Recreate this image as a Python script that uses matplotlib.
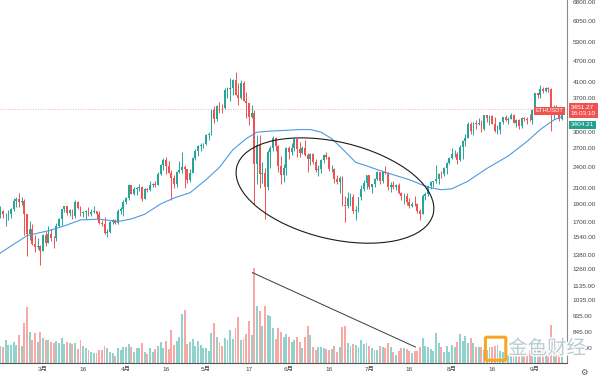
import matplotlib
matplotlib.use("Agg")
import matplotlib.pyplot as plt
import matplotlib.patheffects as pe
import matplotlib.transforms as mtransforms
from matplotlib.patches import Ellipse, FancyBboxPatch
from matplotlib.ticker import NullLocator
import numpy as np
import pandas as pd

plt.rcParams["font.family"] = ["Liberation Sans", "Noto Sans CJK SC", "DejaVu Sans"]

# ETHUSDT daily, 2021-02-13 .. 2021-09-11
START_DATE = "2021-02-13"
FIRST_OPEN = 1743

closes = [
    1814, 1778, 1781, 1782, 1846, 1937, 1960, 1921, 1935, 1780, 1568, 1626, 1475, 1446, 1459, 1416,
    1565, 1487, 1573, 1537, 1531, 1654, 1723, 1835, 1870, 1795, 1824, 1766, 1923, 1854, 1792, 1806,
    1823, 1779, 1807, 1812, 1783, 1680, 1670, 1581, 1587, 1700, 1714, 1688, 1817, 1841, 1919,
    1977, 2143, 2028, 2093, 2107, 2112, 1964, 2082, 2072, 2136, 2158, 2138, 2300, 2432, 2514,
    2422, 2316, 2233, 2162, 2332, 2357, 2396, 2364, 2213, 2316, 2534, 2662, 2747, 2757, 2772,
    2946, 2949, 3431, 3253, 3522, 3490, 3481, 3903, 3928, 3953, 4168, 3787, 3715, 4080, 3649, 3586,
    3285, 3380, 2440, 2760, 2295, 2306, 2109, 2643, 2706, 2888, 2736, 2420, 2278, 2386, 2706,
    2633, 2706, 2855, 2689, 2627, 2714, 2590, 2517, 2608, 2472, 2352, 2372, 2509, 2590, 2549,
    2369, 2371, 2230, 2178, 2244, 1888, 1875, 1970, 1990, 1812, 1829, 1982, 2085, 2167, 2275,
    2114, 2150, 2226, 2322, 2198, 2322, 2316, 2116, 2146, 2112, 2139, 2038, 1993, 1995, 1918, 1876,
    1899, 1895, 1820, 1788, 1994, 2025, 2124, 2187, 2191, 2230, 2300, 2297, 2385, 2462, 2536,
    2603, 2608, 2506, 2724, 2827, 2890, 3158, 3012, 3163, 3141, 3164, 3045, 3322, 3266, 3310, 3148,
    3013, 3029, 3183, 3286, 3225, 3243, 3323, 3172, 3225, 3103, 3275, 3243, 3227, 3225, 3433,
    3834, 3788, 3937, 3887, 3952, 3927, 3430, 3495, 3426, 3245, 3451,
]
highs = [
    1871, 1829, 1800, 1825, 1853, 1967, 1980, 2042, 1990, 1960, 1780, 1710, 1673, 1560, 1530, 1468,
    1570, 1600, 1650, 1624, 1548, 1680, 1739, 1837, 1878, 1875, 1842, 1839, 1944, 1935, 1872, 1819,
    1830, 1860, 1835, 1870, 1818, 1815, 1722, 1745, 1617, 1705, 1732, 1730, 1842, 1860, 1944,
    1989, 2150, 2145, 2110, 2120, 2150, 2130, 2095, 2105, 2198, 2165, 2200, 2318, 2448, 2544,
    2550, 2497, 2359, 2278, 2345, 2494, 2644, 2425, 2365, 2365, 2550, 2680, 2760, 2798, 2800,
    2950, 2990, 3460, 3530, 3540, 3610, 3580, 3957, 3980, 4200, 4190, 4372, 4070, 4145, 4130, 3865,
    3590, 3560, 3440, 2930, 2940, 2480, 2380, 2670, 2748, 2910, 2893, 2760, 2570, 2445, 2720,
    2740, 2800, 2890, 2857, 2818, 2745, 2845, 2620, 2620, 2620, 2520, 2430, 2530, 2600, 2635,
    2560, 2435, 2380, 2280, 2270, 2260, 2000, 2045, 2035, 2020, 1870, 1985, 2140, 2210, 2280,
    2275, 2160, 2240, 2345, 2322, 2345, 2410, 2320, 2185, 2190, 2160, 2165, 2050, 2032, 2030, 1970,
    1925, 1995, 1915, 1840, 2020, 2045, 2130, 2195, 2195, 2428, 2315, 2345, 2400, 2470, 2550,
    2700, 2665, 2630, 2760, 2840, 2950, 3180, 3185, 3180, 3230, 3275, 3230, 3330, 3330, 3330, 3330,
    3290, 3120, 3185, 3300, 3340, 3285, 3375, 3360, 3250, 3250, 3290, 3285, 3285, 3355, 3470,
    3840, 3840, 4025, 3970, 3980, 3970, 3945, 3540, 3550, 3510, 3470,
]
lows = [
    1735, 1744, 1651, 1720, 1742, 1815, 1867, 1860, 1892, 1560, 1371, 1511, 1462, 1400, 1433, 1293,
    1410, 1461, 1485, 1507, 1440, 1500, 1643, 1665, 1806, 1770, 1763, 1730, 1735, 1845, 1760, 1745,
    1730, 1765, 1762, 1800, 1727, 1670, 1650, 1576, 1543, 1586, 1670, 1670, 1673, 1780, 1765,
    1900, 1950, 2027, 2009, 2010, 2060, 1930, 1960, 2050, 2064, 2110, 2113, 2135, 2288, 2360,
    2300, 2305, 1950, 2100, 2115, 2310, 2310, 2100, 2165, 2180, 2310, 2515, 2570, 2660, 2713,
    2760, 2850, 2940, 3160, 3210, 3380, 3370, 3460, 3700, 3650, 3780, 3785, 3540, 3690, 3630, 3280,
    3135, 3265, 1900, 2160, 2100, 2170, 1730, 2075, 2380, 2650, 2650, 2330, 2160, 2180, 2280,
    2530, 2581, 2660, 2550, 2559, 2610, 2575, 2320, 2435, 2440, 2325, 2260, 2310, 2460, 2520,
    2340, 2320, 2170, 2155, 2040, 1870, 1700, 1850, 1880, 1800, 1720, 1810, 1950, 2060, 2090,
    2090, 2040, 2120, 2210, 2160, 2170, 2300, 2080, 2050, 2090, 2080, 2025, 1950, 1905, 1890, 1855,
    1860, 1880, 1795, 1718, 1780, 1950, 1995, 2090, 2110, 2170, 2150, 2240, 2265, 2300, 2445,
    2530, 2550, 2450, 2485, 2530, 2740, 2880, 2960, 2930, 3050, 3135, 2995, 3030, 3180, 3120, 3140,
    2990, 2950, 2960, 3150, 3200, 3150, 3240, 3160, 3080, 3060, 3070, 3210, 3150, 3200, 3150,
    3390, 3720, 3710, 3830, 3850, 3850, 3020, 3240, 3400, 3210, 3230,
]
volume = [
    17, 16, 23, 18, 18, 21, 18, 28, 17, 40, 56, 31, 23, 30, 21, 31,
    25, 23, 23, 21, 20, 22, 20, 25, 19, 21, 20, 19, 20, 14, 23, 17,
    15, 13, 11, 10, 10, 13, 13, 17, 15, 11, 10, 7, 15, 13, 16,
    16, 19, 16, 11, 15, 15, 20, 11, 9, 15, 11, 14, 17, 21, 15,
    22, 14, 33, 18, 22, 26, 49, 53, 19, 21, 24, 17, 22, 18, 15,
    15, 12, 30, 40, 26, 21, 17, 25, 23, 33, 24, 35, 46, 23, 24, 29,
    42, 28, 95, 57, 52, 37, 57, 48, 47, 35, 24, 35, 31, 26, 29,
    26, 21, 23, 26, 21, 15, 26, 37, 28, 16, 13, 16, 16, 15, 14,
    13, 14, 17, 11, 16, 36, 37, 20, 17, 19, 18, 16, 23, 19, 20,
    17, 15, 13, 13, 17, 16, 15, 20, 16, 11, 8, 12, 15, 15, 14, 12,
    10, 12, 12, 16, 25, 17, 16, 14, 12, 30, 20, 16, 11, 17, 11,
    18, 16, 21, 29, 22, 27, 20, 25, 20, 16, 16, 16, 13, 13, 16, 16,
    17, 18, 12, 11, 9, 8, 8, 9, 10, 10, 11, 9, 8, 13, 19,
    18, 18, 20, 14, 12, 14, 38, 22, 16, 18, 10,
]

# moving average (day index -> value)
ma_days = [0, 10, 19, 25, 30, 37, 44, 49, 54, 60, 65, 71, 77, 82, 87, 92, 96, 101, 107, 112,
           116, 120, 124, 127, 130, 133, 137, 141, 147, 153, 158, 161, 165, 169, 175, 182, 190,
           197, 202, 207, 210]
ma_values = [1394, 1555, 1611, 1664, 1718, 1726, 1700, 1728, 1780, 1900, 1973, 2040, 2215, 2395,
             2675, 2870, 2990, 3010, 3025, 3040, 3040, 2990, 2870, 2735, 2600, 2470, 2418, 2360,
             2285, 2215, 2140, 2105, 2078, 2092, 2195, 2377, 2572, 2818, 3040, 3228, 3296]

tick_dates = ["2021-03-01", "2021-03-16", "2021-04-01", "2021-04-16", "2021-05-01", "2021-05-17",
              "2021-06-01", "2021-06-16", "2021-07-01", "2021-07-16", "2021-08-01", "2021-08-16",
              "2021-09-01"]
tick_labels = ["3月", "16", "4月", "16", "5月", "17", "6月", "16", "7月", "16", "8月", "16", "9月"]

price_ticks = [765, 845, 935, 1035, 1135, 1260, 1380, 1540, 1700, 1900, 2100, 2400, 2700,
               3000, 3700, 4100, 4700, 5300, 6050, 6800]

SYMBOL = "ETHUSDT"
LAST_PRICE = 3451.27
COUNTDOWN = "16:03:10"
MA_LAST = 3404.21

# annotations drawn by the author
ELLIPSE_CENTER = (125.2, 2068)     # day index, price
TREND_START = (94.3, 90)           # day index, volume
TREND_END = (155.3, 15.5)

UP = "#26a69a"
DOWN = "#ef5350"
VOL_UP = "#92d2cc"
VOL_DOWN = "#f7a9a7"
MA_COLOR = "#4c9be0"
TEXT = "#444444"

closes = np.array(closes, dtype=float)
highs = np.array(highs, dtype=float)
lows = np.array(lows, dtype=float)
volume = np.array(volume, dtype=float)
opens = np.concatenate([[FIRST_OPEN], closes[:-1]])
x = np.arange(len(closes))
up = closes >= opens

start = pd.Timestamp(START_DATE)
tick_pos = [(pd.Timestamp(d) - start).days for d in tick_dates]

fig = plt.figure(figsize=(6, 3.78), dpi=100)
rect = [0.0, 15.5 / 378, 567 / 600, 362.5 / 378]
ax_v = fig.add_axes(rect)
ax = fig.add_axes(rect, sharex=ax_v)
ax_v.set_zorder(0)
ax.set_zorder(1)
ax.patch.set_visible(False)

# volume
ax_v.bar(x, volume, width=0.72, color=np.where(up, VOL_UP, VOL_DOWN), linewidth=0)
ax_v.plot([TREND_START[0], TREND_END[0]], [TREND_START[1], TREND_END[1]],
          color="#3a3a3a", linewidth=0.7)
ax_v.set_ylim(0, volume.max() * 3.82)
ax_v.axis("off")

# candles
colors = np.where(up, UP, DOWN)
ax.axhline(LAST_PRICE, color="#f29b98", linewidth=0.6, linestyle=(0, (1, 2)), zorder=1)
ax.vlines(x, lows, highs, colors=colors, linewidth=0.7, zorder=2)
ax.bar(x, np.maximum(np.abs(closes - opens), 2), bottom=np.minimum(opens, closes),
       width=0.7, color=colors, linewidth=0, zorder=3)
ax.plot(ma_days, ma_values, color=MA_COLOR, linewidth=0.8, zorder=4)

ax.set_yscale("log")

ax.yaxis.tick_right()
ax.yaxis.set_minor_locator(NullLocator())
ax.set_yticks(price_ticks)
ax.set_yticklabels([f"{v:.2f}" for v in price_ticks])
ax.set_xticks(tick_pos)
ax.set_xticklabels(tick_labels)
ax.tick_params(axis="y", length=0, pad=4, labelsize=4.6, labelcolor=TEXT)
ax.tick_params(axis="x", length=0, pad=3, labelsize=4.6, labelcolor=TEXT)

for side in ("top", "left"):
    ax.spines[side].set_visible(False)
ax.spines["right"].set_color("#8a8a8a")
ax.spines["right"].set_linewidth(0.8)
ax.spines["bottom"].set_color("#555555")
ax.spines["bottom"].set_linewidth(0.8)

# price labels on the axis
blend = mtransforms.blended_transform_factory(ax.transAxes, ax.transData)
ax.annotate(f"{LAST_PRICE:.2f}\n{COUNTDOWN}", xy=(1, LAST_PRICE), xycoords=blend,
            xytext=(2.6, 3.2), textcoords="offset points", ha="left", va="top",
            fontsize=4.6, color="white", linespacing=1.25, annotation_clip=False,
            bbox=dict(boxstyle="square,pad=0.3", fc=DOWN, ec="none"), zorder=10)
ax.annotate(f"{MA_LAST:.2f}", xy=(1, MA_LAST), xycoords=blend,
            xytext=(2.6, -9.6), textcoords="offset points", ha="left", va="center",
            fontsize=4.6, color="white", annotation_clip=False,
            bbox=dict(boxstyle="square,pad=0.3", fc="#22a08e", ec="none"), zorder=10)
ax.annotate(SYMBOL, xy=(1, LAST_PRICE), xycoords=blend,
            xytext=(-2.5, -1), textcoords="offset points", ha="right", va="center",
            fontsize=4.2, color="white", annotation_clip=False,
            bbox=dict(boxstyle="square,pad=0.3", fc=DOWN, ec="none"), zorder=10)

# hand-drawn ellipse around the June-July range
trans = fig.dpi_scale_trans + mtransforms.ScaledTranslation(
    ELLIPSE_CENTER[0], ELLIPSE_CENTER[1], ax.transData)
ax.add_patch(Ellipse((0, 0), width=2.02, height=0.97, angle=-13.4, fill=False,
                     edgecolor="#1a1a1a", linewidth=0.8, transform=trans,
                     clip_on=False, zorder=5))
ax.set_xlim(-0.1, 212)
ax.set_ylim(698, 6890)

# watermark
fig.patches.append(FancyBboxPatch((0.812, 0.05), 0.028, 0.055, boxstyle="round,pad=0.003",
                                  transform=fig.transFigure, fc="none", ec="#f5a623",
                                  linewidth=2.2, zorder=20))
fig.text(0.912, 0.078, "金色财经", fontsize=14, color="#b9cdd0", ha="center", va="center",
         family=["Noto Sans CJK SC"], zorder=20,
         path_effects=[pe.withStroke(linewidth=2, foreground="white")])
fig.text(0.973, 0.016, "⚙", fontsize=6, color="#555555", ha="center", va="center",
         family=["DejaVu Sans"])

fig.savefig("out.png", dpi=100)
